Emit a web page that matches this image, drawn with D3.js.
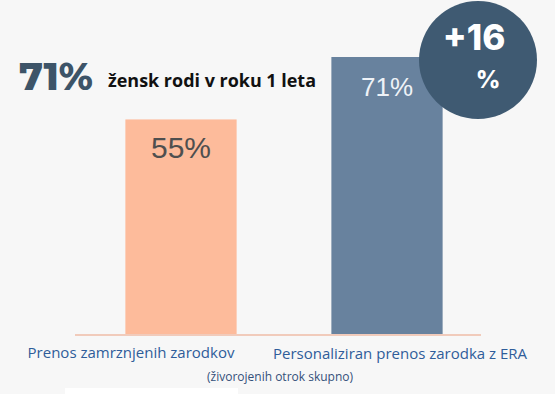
<!DOCTYPE html>
<html>
<head>
<meta charset="utf-8">
<script src="https://cdn.jsdelivr.net/npm/d3@7.9.0/dist/d3.min.js"></script>
<style>
  body { margin: 0; background: #f7f7f7; }
  svg { display: block; }
</style>
</head>
<body>
<svg id="chart" width="555" height="394"></svg>
<script>
// data
const categories = ['Prenos zamrznjenih zarodkov', 'Personalizirani prenos zarodka z ERA'];
const labels = ['Prenos zamrznjenih zarodkov', 'Personaliziran prenos zarodka z ERA'];
const values = [55, 71];
const barColors = ['#fdbb9b', '#68829e'];
const valueColors = ['#4f4f4f', '#eef2f7'];
const headline = '71%';
const headlineText = 'žensk rodi v roku 1 leta';
const diffLabel = ['+16', '%'];
const footnote = '(živorojenih otrok skupno)';

const svg = d3.select('#chart');

svg.append('rect')
  .attr('width', 555).attr('height', 394)
  .attr('fill', '#f7f7f7');

// little white patch at the bottom
svg.append('rect')
  .attr('x', 65).attr('y', 388).attr('width', 173).attr('height', 6)
  .attr('fill', '#ffffff');

let x = d3.scaleBand()
  .domain(categories)
  .range([78, 490])
  .paddingInner(0.46)
  .paddingOuter(0.23);

let y = d3.scaleLinear()
  .domain([0, 71])
  .range([334, 57]);

// bars
svg.selectAll('rect.bar')
  .data(values)
  .join('rect')
  .attr('class', 'bar')
  .attr('x', (d, i) => x(categories[i]))
  .attr('y', d => y(d))
  .attr('width', x.bandwidth())
  .attr('height', d => y(0) - y(d))
  .attr('fill', (d, i) => barColors[i]);

// baseline
svg.append('line')
  .attr('x1', 75).attr('x2', 481)
  .attr('y1', y(0) + 1).attr('y2', y(0) + 1)
  .attr('stroke', '#f1cbbb')
  .attr('stroke-width', 2);

// values inside bars
svg.selectAll('text.val')
  .data(values)
  .join('text')
  .attr('class', 'val')
  .attr('x', (d, i) => x(categories[i]) + x.bandwidth() / 2)
  .attr('y', d => y(d) + 38.5)
  .attr('text-anchor', 'middle')
  .attr('font-family', 'Liberation Sans, Arial, sans-serif')
  .attr('font-size', (d, i) => i === 1 ? 26 : 30)
  .attr('fill', (d, i) => valueColors[i])
  .text(d => d + '%');

// category labels
const labelPos = [131, 400];
svg.selectAll('text.cat')
  .data(labels)
  .join('text')
  .attr('class', 'cat')
  .attr('x', (d, i) => labelPos[i])
  .attr('y', (d, i) => 358 + i)
  .attr('text-anchor', 'middle')
  .attr('font-family', 'Open Sans, sans-serif')
  .attr('font-size', 15)
  .attr('fill', '#2f5d9a')
  .text(d => d);

svg.append('text')
  .attr('x', 280).attr('y', 381)
  .attr('text-anchor', 'middle')
  .attr('font-family', 'Open Sans, sans-serif')
  .attr('font-size', 12)
  .attr('fill', '#34507a')
  .text(footnote);

// headline
svg.append('text')
  .attr('x', 19).attr('y', 90)
  .attr('font-family', 'Montserrat, Inter, sans-serif')
  .attr('font-weight', 800)
  .attr('font-size', 38)
  .attr('fill', '#3d5468')
  .text(headline);

svg.append('text')
  .attr('x', 108).attr('y', 87)
  .attr('font-family', 'Open Sans, sans-serif')
  .attr('font-weight', 700)
  .attr('font-size', 18)
  .attr('fill', '#111111')
  .attr('textLength', 208)
  .attr('lengthAdjust', 'spacingAndGlyphs')
  .text(headlineText);

// difference badge
svg.append('circle')
  .attr('cx', 478).attr('cy', 60).attr('r', 59)
  .attr('fill', '#3f5a72');

svg.append('text')
  .attr('x', 474).attr('y', 50)
  .attr('text-anchor', 'middle')
  .attr('font-family', 'Inter, sans-serif')
  .attr('font-weight', 800)
  .attr('font-size', 35)
  .attr('fill', '#ffffff')
  .text(diffLabel[0]);

svg.append('text')
  .attr('x', 488).attr('y', 88)
  .attr('text-anchor', 'middle')
  .attr('font-family', 'Inter, sans-serif')
  .attr('font-weight', 800)
  .attr('font-size', 24)
  .attr('fill', '#ffffff')
  .text(diffLabel[1]);
</script>
</body>
</html>
